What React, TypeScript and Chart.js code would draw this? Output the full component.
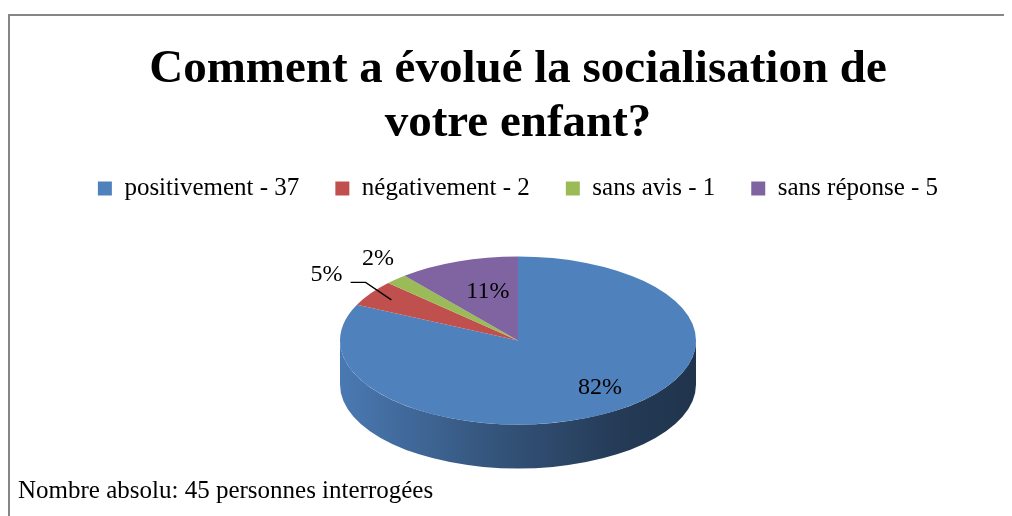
import { useEffect, useRef } from 'react';
import { Chart, registerables } from 'chart.js';

Chart.register(...registerables);

const titleLines = ['Comment a évolué la socialisation de', 'votre enfant?'];
const categories = ['positivement', 'négativement', 'sans avis', 'sans réponse'];
const counts = [37, 2, 1, 5];
const shares = [82, 5, 2, 11];
const colors = ['#4f81bd', '#c0504d', '#9bbb59', '#8064a2'];
const footnote = 'Nombre absolu: 45 personnes interrogées';

const FONT = '"Liberation Serif", "Times New Roman", serif';
const TILT = 0.472;
const DEPTH = 44;
// label placement factors relative to the ellipse (x factor, y factor)
const labelPlace = [
  { fx: 0.86, fy: 0.66 },
  { fx: 1.3, fy: 1.4 },
  { fx: 1.15, fy: 1.34 },
  { fx: 0.5, fy: 0.62 },
];
const leader = [false, true, false, false];

function shade(hex: string, f: number) {
  const n = parseInt(hex.slice(1), 16);
  const r = Math.round(((n >> 16) & 255) * f);
  const g = Math.round(((n >> 8) & 255) * f);
  const b = Math.round((n & 255) * f);
  return `rgb(${r},${g},${b})`;
}

const pie3d = {
  id: 'pie3d',
  beforeDatasetsDraw(chart: any) {
    const ctx: CanvasRenderingContext2D = chart.ctx;
    const arcs = chart.getDatasetMeta(0).data as any[];
    if (!arcs.length) return false;
    const a0 = arcs[0];
    const cx = a0.x;
    const cy = a0.y;
    const rx = a0.outerRadius;
    const ry = rx * TILT;

    // side walls (front half only)
    arcs.forEach((arc, i) => {
      const s = arc.startAngle;
      const e = arc.endAngle;
      const c = colors[i];
      for (const k of [-2 * Math.PI, 0, 2 * Math.PI]) {
        const a1 = Math.max(s, k);
        const a2 = Math.min(e, k + Math.PI);
        if (a2 <= a1) continue;
        const g = ctx.createLinearGradient(cx - rx, 0, cx + rx, 0);
        g.addColorStop(0, shade(c, 0.94));
        g.addColorStop(0.45, shade(c, 0.64));
        g.addColorStop(0.8, shade(c, 0.45));
        g.addColorStop(1, shade(c, 0.4));
        ctx.beginPath();
        ctx.ellipse(cx, cy, rx, ry, 0, a1, a2);
        ctx.lineTo(cx + rx * Math.cos(a2), cy + ry * Math.sin(a2) + DEPTH);
        ctx.ellipse(cx, cy + DEPTH, rx, ry, 0, a2, a1, true);
        ctx.closePath();
        ctx.fillStyle = g;
        ctx.fill();
      }
    });

    // top face: the library's own arcs, squashed
    ctx.save();
    ctx.translate(cx, cy);
    ctx.scale(1, TILT);
    ctx.translate(-cx, -cy);
    arcs.forEach((a) => a.draw(ctx));
    ctx.restore();

    // labels
    ctx.save();
    ctx.font = `24px ${FONT}`;
    ctx.fillStyle = '#000';
    ctx.textAlign = 'center';
    ctx.textBaseline = 'middle';
    arcs.forEach((arc, i) => {
      const m = (arc.startAngle + arc.endAngle) / 2;
      const p = labelPlace[i];
      const lx = cx + rx * p.fx * Math.cos(m);
      const ly = cy + ry * p.fy * Math.sin(m);
      const txt = `${shares[i]}%`;
      ctx.fillText(txt, lx, ly);
      if (leader[i]) {
        const w = ctx.measureText(txt).width;
        const sx = lx + w / 2 + 8;
        const sy = ly + 8;
        ctx.beginPath();
        ctx.moveTo(sx, sy);
        ctx.lineTo(sx + 15, sy);
        ctx.lineTo(cx + rx * 0.86 * Math.cos(m), cy + ry * 0.86 * Math.sin(m));
        ctx.strokeStyle = '#000';
        ctx.lineWidth = 1.3;
        ctx.stroke();
      }
    });
    ctx.restore();
    return false;
  },
};

export default function App() {
  const ref = useRef<HTMLCanvasElement>(null);
  useEffect(() => {
    const chart = new Chart(ref.current as HTMLCanvasElement, {
      type: 'pie',
      data: {
        labels: categories.map((c, i) => `${c} - ${counts[i]}`),
        datasets: [
          {
            data: shares,
            backgroundColor: colors,
            borderWidth: 0,
            radius: 178,
          } as any,
        ],
      },
      options: {
        responsive: false,
        animation: false,
        layout: { padding: { left: 10, right: 10, top: 0, bottom: 0 } },
        plugins: {
          title: {
            display: true,
            text: titleLines,
            color: '#000',
            font: { family: FONT, size: 47, weight: 'bold', lineHeight: 54 / 47 },
            padding: { top: 35, bottom: -11 },
          },
          legend: {
            position: 'top',
            labels: {
              color: '#000',
              font: { family: FONT, size: 25 },
              boxWidth: 14,
              boxHeight: 14,
              padding: 36,
              generateLabels: () =>
                categories.map((c, i) => ({
                  text: `${c} - ${counts[i]}`,
                  fillStyle: colors[i],
                  strokeStyle: colors[i],
                  lineWidth: 0,
                  hidden: false,
                  index: i,
                  datasetIndex: 0,
                  fontColor: '#000',
                })),
            },
          },
          subtitle: {
            display: true,
            position: 'bottom',
            align: 'start',
            text: footnote,
            color: '#000',
            font: { family: FONT, size: 25, lineHeight: 1.2 },
            padding: { top: 6, bottom: 10 },
          },
          tooltip: { enabled: false },
        },
      } as any,
      plugins: [pie3d],
    });
    return () => chart.destroy();
  }, []);
  return (
    <div style={{ position: 'relative', width: 1004, height: 508, overflow: 'hidden' }}>
      <div
        style={{
          position: 'absolute',
          left: 0,
          top: 6,
          width: 1060,
          height: 600,
          border: '2px solid #868686',
          boxSizing: 'border-box',
        }}
      />
      <canvas
        ref={ref}
        width={1020}
        height={508}
        style={{ position: 'absolute', left: 0, top: 0, width: 1020, height: 508 }}
      />
    </div>
  );
}
